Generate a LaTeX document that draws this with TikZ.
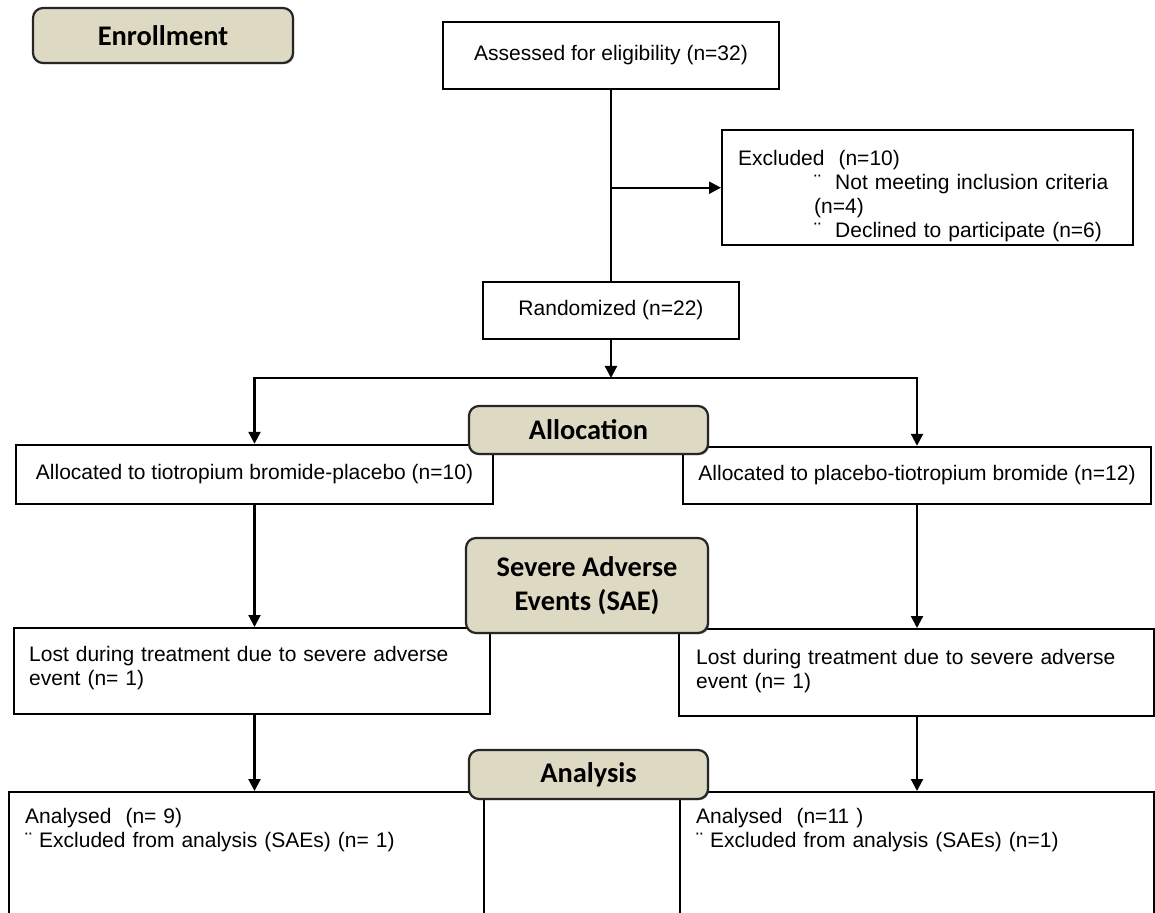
\documentclass[tikz,border=0pt]{standalone}
\usepackage{fontspec}
\setmainfont{Liberation Sans}
\newfontfamily\stagefont{Carlito}
\usetikzlibrary{arrows.meta,shadows}
\definecolor{stagetan}{HTML}{DDD9C3}

\begin{document}
\begin{tikzpicture}
  [x=0.5pt,y=-0.5pt,
    font=\fontsize{10.5}{12}\selectfont,
    box/.style={draw,line width=1.2pt,fill=white,inner sep=0pt},
    textbox/.style={box,anchor=north west,align=left},
    stage/.style={draw=black!85,line width=1.1pt,rounded corners=5pt,fill=stagetan,
      align=center,font=\stagefont\fontsize{14.2}{17}\selectfont\bfseries,
      drop shadow={shadow xshift=0.6pt,shadow yshift=-0.6pt,fill=black!70}},
    link/.style={line width=1.1pt},
    flow/.style={link,-{Triangle[length=6pt,width=6pt]}}]

  \path[use as bounding box,clip] (0,0) rectangle (1155,913);

  \node[box,minimum width=168pt,minimum height=33.5pt] (assess) at (611,55.5)
    {Assessed for eligibility (n=32)};
  \node[textbox,text width=189.5pt,inner xsep=8pt,text height=17.5pt,text depth=40pt]
    (excl) at (721,129)
    {Excluded\ \ (n=10)\\
     \hspace*{38pt}¨\ \ Not meeting inclusion criteria\\
     \hspace*{38pt}(n=4)\\
     \hspace*{38pt}¨\ \ Declined to participate (n=6)};
  \node[box,minimum width=128pt,minimum height=28.5pt] (rand) at (611,310.5)
    {Randomized (n=22)};

  % two arms
  \node[box,minimum width=238.5pt,minimum height=29.5pt] (alloct) at (254.5,474.5)
    {Allocated to tiotropium bromide-placebo (n=10)};
  \node[box,minimum width=234pt,minimum height=28.5pt] (allocp) at (917,475.5)
    {Allocated to placebo-tiotropium bromide (n=12)};
  \node[textbox,text width=223pt,inner xsep=7.5pt,text height=16.5pt,text depth=26.5pt]
    (lostt) at (13,627)
    {Lost during treatment due to severe adverse\\event (n= 1)};
  \node[textbox,text width=220.5pt,inner xsep=8.5pt,text height=17.5pt,text depth=26pt]
    (lostp) at (678,628)
    {Lost during treatment due to severe adverse\\event (n= 1)};
  \node[textbox,text width=221.5pt,inner xsep=8pt,text height=15.5pt,text depth=100pt]
    (analt) at (8,791)
    {Analysed\ \ (n= 9)\\¨ Excluded from analysis (SAEs) (n= 1)};
  \node[textbox,text width=221pt,inner xsep=8pt,text height=15.5pt,text depth=100pt]
    (analp) at (679,791)
    {Analysed\ \ (n=11 )\\¨ Excluded from analysis (SAEs) (n=1)};

  \coordinate (split) at (611,378);
  \draw[link] (assess.south) -- (rand.north);
  \draw[flow] (assess.south |- excl.west) -- (excl.west);
  \draw[flow] (rand.south) -- (split);
  \draw[flow] (split) -| (alloct.north);
  \draw[flow] (split) -| (allocp.north);
  \draw[flow] (alloct.south) -- (alloct.south |- lostt.north);
  \draw[flow] (allocp.south) -- (allocp.south |- lostp.north);
  \draw[flow] (lostt.south -| alloct.south) -- (analt.north -| alloct.south);
  \draw[flow] (lostp.south -| allocp.south) -- (analp.north -| allocp.south);

  % stage labels
  \node[stage,minimum width=130pt,minimum height=27.5pt] (enrol) at (163,35.5) {Enrollment};
  \node[stage,minimum width=119.5pt,minimum height=24pt] (alloc) at (588.5,430) {Allocation};
  \node[stage,minimum width=121pt,minimum height=47.5pt] (sae) at (587,585.5)
    {Severe Adverse\\Events (SAE)};
  \node[stage,minimum width=119.5pt,minimum height=24.5pt] (analysis) at (588.5,774.5) {Analysis};

\end{tikzpicture}
\end{document}
